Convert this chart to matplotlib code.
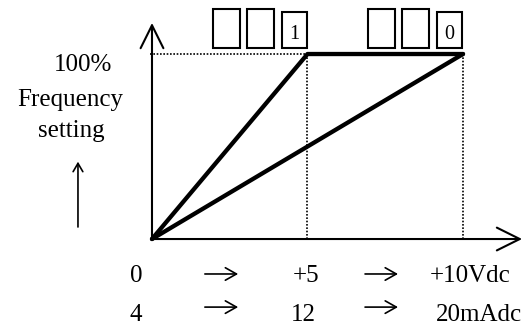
import matplotlib.pyplot as plt
from matplotlib.patches import Rectangle

# input signal scale (x) and output frequency setting (y, %)
volts = [0, 5, 10]
milliamps = [4, 12, 20]
gain_1 = [0, 100, 100]      # setting ...1 : full output reached at +5V / 12mA
gain_0_x = [0, 10]
gain_0 = [0, 100]           # setting ...0 : full output at +10V / 20mA
volt_labels = ['0', '+5', '+10Vdc']
amp_labels = ['4', '12', '20mAdc']
box_digits = ['1', '0']

plt.rcParams['font.family'] = ['Liberation Serif', 'DejaVu Serif']

fig = plt.figure(figsize=(5.23, 3.28), dpi=100)
ax = fig.add_axes([0, 0, 1, 1])
ax.set_xlim(-4.887, 11.929)
ax.set_ylim(-48.1, 129.2)
ax.axis('off')

# axes with open arrow heads
arr = dict(arrowstyle='->, head_length=1.65, head_width=0.82', lw=1.5,
           color='black', shrinkA=0, shrinkB=0, mutation_scale=10)
ax.annotate('', xy=(0, 116.8), xytext=(0, 0), arrowprops=arr)
ax.annotate('', xy=(11.9, 0), xytext=(0, 0), arrowprops=arr)

# dotted guides
ax.plot([-0.05, volts[1]], [100, 100], color='black', lw=1.2, ls=(0, (1, 1)))
for v in volts[1:]:
    ax.plot([v, v], [0, 100], color='black', lw=1.2, ls=(0, (1, 1)))

# characteristic lines
ax.plot(volts, gain_1, color='black', lw=3.1, solid_capstyle='round')
ax.plot(gain_0_x, gain_0, color='black', lw=3.1, solid_capstyle='round')

# parameter display boxes over each break point
sx = 31.1
for right, dig in zip(volts[1:], box_digits):
    r = right - 0.03
    for off in [94, 60]:
        ax.add_patch(Rectangle((r - off / sx, 103.2), 27 / sx, 21.1,
                               fill=False, lw=1.5, ec='black'))
    ax.add_patch(Rectangle((r - 25 / sx, 103.2), 25 / sx, 19.5,
                           fill=False, lw=1.5, ec='black'))
    ax.text(r - 12.5 / sx, 108.1, dig, ha='center', va='baseline', fontsize=14.5)

# y label
fs = 18
ax.text(-2.22, 90.8, '100%', ha='center', va='baseline', fontsize=fs)
ax.text(-2.64, 71.9, 'Frequency', ha='center', va='baseline', fontsize=fs)
ax.text(-2.6, 55.1, 'setting', ha='center', va='baseline', fontsize=fs)
ax.annotate('', xy=(-2.38, 41.8), xytext=(-2.38, 6.5),
            arrowprops=dict(arrowstyle='->, head_length=0.6, head_width=0.35',
                            lw=1.2, color='black', shrinkA=0, shrinkB=0,
                            mutation_scale=10))

# input scale labels
vx = [-0.51, 4.95, 8.94]
ax_ = [-0.51, 4.86, 9.13]
for i in range(3):
    ha = 'left' if i == 2 else 'center'
    ax.text(vx[i], -23.2, volt_labels[i], ha=ha, va='baseline', fontsize=fs)
    ax.text(ax_[i], -44.3, amp_labels[i], ha=ha, va='baseline', fontsize=fs)

small = dict(arrowstyle='->, head_length=0.8, head_width=0.45', lw=1.2,
             color='black', shrinkA=0, shrinkB=0, mutation_scale=10)
for a, b in [(1.70, 2.77), (6.85, 7.91)]:
    ax.annotate('', xy=(b, -18.9), xytext=(a, -18.9), arrowprops=small)
    ax.annotate('', xy=(b, -36.8), xytext=(a, -36.8), arrowprops=small)

fig.savefig('out.png', dpi=100)
